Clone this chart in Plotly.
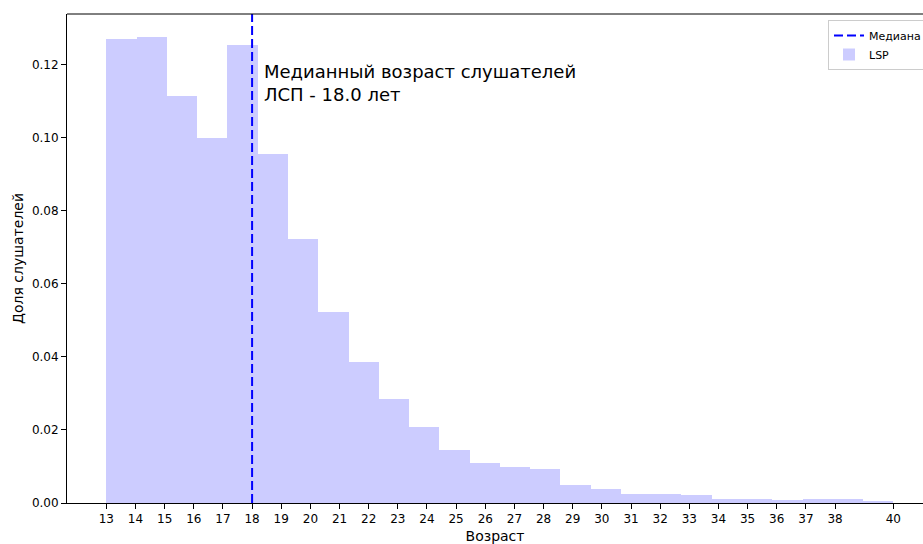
import numpy as np
import plotly.graph_objects as go

# Histogram: 26 equal bins between 13 and 40 (share of listeners)
bin_start = 13
bin_end = 40
shares = [0.1270, 0.1275, 0.1114, 0.1000, 0.1253, 0.0955, 0.0722, 0.0522,
          0.0385, 0.0284, 0.0208, 0.0146, 0.0109, 0.0098, 0.0092, 0.0048,
          0.0037, 0.0024, 0.0024, 0.0021, 0.0012, 0.0012, 0.0009, 0.0012,
          0.0012, 0.0006]
median_age = 18.0
tick_vals = list(range(13, 39)) + [40]
tick_text = [str(v) for v in tick_vals]

n_bins = len(shares)
edges = np.linspace(bin_start, bin_end, n_bins + 1)
centers = (edges[:-1] + edges[1:]) / 2
width = edges[1] - edges[0]

ymax = max(shares) * 1.05
xr0 = bin_start - 0.05 * (bin_end - bin_start)
px_per_unit = (893 - 106) / (bin_end - bin_start)
xr1 = xr0 + (923 - 67) / px_per_unit

font = "DejaVu Sans"

fig = go.Figure()
fig.add_trace(go.Scatter(
    x=[median_age, median_age], y=[0, ymax], mode="lines",
    line=dict(color="blue", width=2, dash="9px,4px"),
    name="Медиана", hoverinfo="skip"))
fig.add_trace(go.Bar(
    x=centers, y=shares, width=width, name="LSP",
    marker=dict(color="#ccccff", line=dict(width=0))))

fig.add_annotation(
    x=median_age + 0.35, y=0.1150, xref="x", yref="y",
    text="Медианный возраст слушателей<br>ЛСП - 18.0 лет",
    showarrow=False, xanchor="left", yanchor="middle", align="left",
    font=dict(family=font, size=18, color="black"))

# top spine
fig.add_shape(type="line", xref="paper", yref="paper", x0=0, x1=1, y0=1, y1=1,
              line=dict(color="black", width=1))

fig.update_layout(
    width=923, height=544,
    margin=dict(l=67, r=0, t=14, b=41, autoexpand=False),
    plot_bgcolor="white", paper_bgcolor="white",
    font=dict(family=font, size=12, color="black"),
    bargap=0,
    showlegend=True,
    legend=dict(x=(828 - 67) / 856, y=(503 - 20) / 489, xanchor="left", yanchor="top",
                bgcolor="white", bordercolor="#cccccc", borderwidth=1,
                font=dict(family=font, size=11), traceorder="normal"),
    xaxis=dict(range=[xr0, xr1], tickmode="array", tickvals=tick_vals, ticktext=tick_text,
               ticks="outside", ticklen=5, tickcolor="black", showgrid=False,
               zeroline=False, showline=True, linecolor="black", linewidth=1,
               automargin=False,
               title=dict(text="Возраст", font=dict(family=font, size=14), standoff=6),
               tickfont=dict(family=font, size=12)),
    yaxis=dict(range=[0, ymax], dtick=0.02, tickformat=".2f",
               ticks="outside", ticklen=5, tickcolor="black", showgrid=False,
               zeroline=False, showline=True, linecolor="black", linewidth=1,
               automargin=False,
               title=dict(text="Доля слушателей", font=dict(family=font, size=14), standoff=4),
               tickfont=dict(family=font, size=12)),
)

fig.write_html("out.html", config={"displayModeBar": False},
               post_script="document.body.style.margin='0';document.body.style.overflow='hidden';")
